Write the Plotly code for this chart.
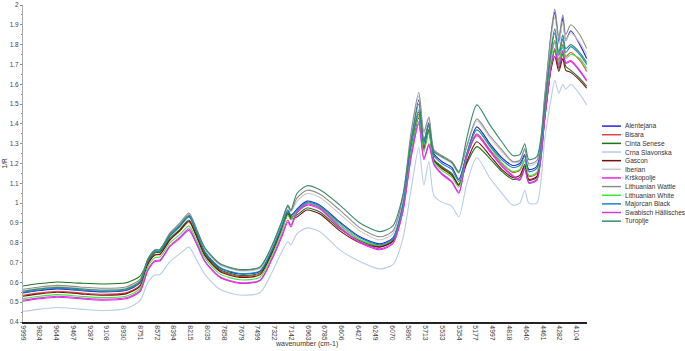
import plotly.graph_objects as go

# wavenumber sample points (cm-1)
wavenumber = [9999, 9818, 9637, 9392, 9147, 8902, 8753, 8668, 8593, 8540, 8433, 8327, 8231, 8157,
              8061, 7901, 7688, 7475, 7347, 7241, 7177, 7145, 7081, 6974, 6836, 6623, 6410, 6197,
              6058, 5952, 5867, 5782, 5728, 5675, 5622, 5537, 5430, 5356, 5270, 5164, 5025, 4898,
              4781, 4706, 4653, 4610, 4525, 4439, 4375, 4333, 4290, 4248, 4216, 4163, 4067, 3993]

alentejana = [0.547, 0.559, 0.567, 0.559, 0.552, 0.559, 0.597, 0.710, 0.755, 0.758, 0.835, 0.885, 0.935, 0.865,
              0.752, 0.672, 0.642, 0.655, 0.762, 0.885, 0.965, 0.935, 0.970, 1.010, 0.990, 0.905, 0.830, 0.795,
              0.825, 1.000, 1.310, 1.520, 1.310, 1.405, 1.250, 1.210, 1.180, 1.120, 1.250, 1.385, 1.300, 1.230,
              1.190, 1.200, 1.245, 1.170, 1.185, 1.530, 1.840, 1.965, 1.810, 1.935, 1.820, 1.870, 1.800, 1.730]
bisara = [0.535, 0.547, 0.555, 0.547, 0.540, 0.547, 0.585, 0.695, 0.740, 0.743, 0.815, 0.860, 0.905, 0.840,
          0.740, 0.660, 0.630, 0.643, 0.750, 0.870, 0.950, 0.925, 0.960, 1.000, 0.980, 0.890, 0.815, 0.785,
          0.815, 0.980, 1.270, 1.450, 1.280, 1.370, 1.220, 1.180, 1.145, 1.090, 1.240, 1.350, 1.270, 1.200,
          1.155, 1.165, 1.215, 1.135, 1.150, 1.470, 1.740, 1.820, 1.720, 1.800, 1.740, 1.760, 1.720, 1.665]
cinta_senese = [0.582, 0.594, 0.602, 0.596, 0.592, 0.598, 0.632, 0.705, 0.750, 0.752, 0.822, 0.868, 0.915, 0.850,
                0.745, 0.665, 0.635, 0.648, 0.755, 0.875, 0.955, 0.930, 0.940, 0.975, 0.955, 0.870, 0.810, 0.780,
                0.810, 0.975, 1.270, 1.460, 1.280, 1.370, 1.220, 1.185, 1.150, 1.095, 1.200, 1.285, 1.225, 1.160,
                1.120, 1.130, 1.185, 1.115, 1.130, 1.440, 1.680, 1.770, 1.680, 1.755, 1.690, 1.670, 1.630, 1.590]
crna_slavonska = [0.453, 0.465, 0.473, 0.465, 0.458, 0.468, 0.508, 0.600, 0.637, 0.640, 0.705, 0.745, 0.778, 0.720,
                  0.640, 0.565, 0.536, 0.548, 0.650, 0.755, 0.806, 0.790, 0.845, 0.875, 0.856, 0.764, 0.705, 0.668,
                  0.690, 0.820, 1.060, 1.280, 1.090, 1.210, 1.040, 1.005, 0.985, 0.930, 1.100, 1.230, 1.127, 1.050,
                  0.990, 1.000, 1.065, 1.000, 1.000, 1.330, 1.520, 1.620, 1.555, 1.600, 1.575, 1.600, 1.550, 1.495]
gascon = [0.530, 0.542, 0.550, 0.542, 0.535, 0.542, 0.580, 0.693, 0.738, 0.741, 0.815, 0.862, 0.910, 0.840,
          0.735, 0.655, 0.625, 0.638, 0.745, 0.865, 0.945, 0.920, 0.930, 0.965, 0.945, 0.860, 0.800, 0.778,
          0.808, 0.970, 1.260, 1.430, 1.270, 1.360, 1.215, 1.175, 1.140, 1.090, 1.210, 1.310, 1.240, 1.170,
          1.130, 1.140, 1.195, 1.120, 1.135, 1.430, 1.670, 1.740, 1.665, 1.730, 1.670, 1.660, 1.620, 1.580]
iberian = [0.558, 0.570, 0.578, 0.570, 0.563, 0.570, 0.608, 0.715, 0.760, 0.763, 0.845, 0.895, 0.945, 0.875,
           0.768, 0.688, 0.658, 0.670, 0.778, 0.900, 0.980, 0.955, 1.008, 1.048, 1.028, 0.945, 0.860, 0.815,
           0.845, 1.015, 1.330, 1.540, 1.350, 1.425, 1.265, 1.230, 1.200, 1.150, 1.280, 1.415, 1.330, 1.260,
           1.205, 1.210, 1.265, 1.190, 1.205, 1.540, 1.820, 1.940, 1.800, 1.915, 1.820, 1.860, 1.810, 1.750]
krskopolje = [0.505, 0.517, 0.525, 0.517, 0.510, 0.517, 0.553, 0.660, 0.705, 0.708, 0.780, 0.822, 0.862, 0.800,
              0.705, 0.625, 0.595, 0.608, 0.715, 0.830, 0.905, 0.880, 0.950, 0.990, 0.970, 0.875, 0.800, 0.765,
              0.795, 0.955, 1.220, 1.400, 1.220, 1.290, 1.195, 1.145, 1.105, 1.050, 1.235, 1.345, 1.265, 1.190,
              1.140, 1.120, 1.175, 1.105, 1.120, 1.440, 1.690, 1.780, 1.700, 1.770, 1.710, 1.720, 1.670, 1.620]
lith_wattle = [0.565, 0.577, 0.585, 0.577, 0.570, 0.577, 0.615, 0.720, 0.765, 0.768, 0.850, 0.900, 0.950, 0.880,
               0.772, 0.692, 0.662, 0.675, 0.782, 0.905, 0.985, 0.960, 1.025, 1.065, 1.045, 0.965, 0.875, 0.830,
               0.860, 1.030, 1.350, 1.558, 1.360, 1.435, 1.270, 1.240, 1.210, 1.160, 1.290, 1.425, 1.340, 1.270,
               1.210, 1.215, 1.275, 1.200, 1.215, 1.550, 1.850, 1.980, 1.840, 1.950, 1.850, 1.900, 1.850, 1.780]
lith_white = [0.518, 0.530, 0.538, 0.530, 0.523, 0.530, 0.568, 0.680, 0.725, 0.728, 0.800, 0.842, 0.885, 0.820,
              0.723, 0.643, 0.613, 0.626, 0.735, 0.860, 0.940, 0.915, 0.960, 1.000, 0.980, 0.890, 0.815, 0.788,
              0.818, 0.975, 1.260, 1.440, 1.260, 1.360, 1.210, 1.165, 1.130, 1.080, 1.245, 1.370, 1.285, 1.205,
              1.160, 1.170, 1.220, 1.140, 1.155, 1.460, 1.720, 1.810, 1.710, 1.790, 1.730, 1.750, 1.730, 1.680]
majorcan_black = [0.550, 0.562, 0.570, 0.562, 0.555, 0.562, 0.600, 0.710, 0.755, 0.758, 0.833, 0.882, 0.930, 0.860,
                  0.755, 0.675, 0.645, 0.658, 0.765, 0.885, 0.965, 0.940, 0.965, 1.005, 0.985, 0.900, 0.825, 0.790,
                  0.820, 0.990, 1.290, 1.470, 1.300, 1.390, 1.240, 1.200, 1.170, 1.110, 1.250, 1.370, 1.290, 1.220,
                  1.180, 1.190, 1.235, 1.160, 1.175, 1.490, 1.760, 1.860, 1.745, 1.830, 1.760, 1.790, 1.750, 1.700]
swabisch = [0.510, 0.522, 0.530, 0.522, 0.515, 0.522, 0.558, 0.665, 0.710, 0.713, 0.785, 0.828, 0.870, 0.805,
            0.708, 0.628, 0.598, 0.611, 0.720, 0.840, 0.915, 0.890, 0.955, 0.995, 0.975, 0.880, 0.805, 0.770,
            0.800, 0.960, 1.230, 1.410, 1.225, 1.300, 1.200, 1.150, 1.110, 1.055, 1.235, 1.340, 1.260, 1.185,
            1.135, 1.115, 1.170, 1.100, 1.115, 1.430, 1.680, 1.775, 1.695, 1.765, 1.705, 1.715, 1.665, 1.615]
turoplje = [0.555, 0.567, 0.575, 0.567, 0.560, 0.567, 0.605, 0.717, 0.762, 0.765, 0.842, 0.890, 0.940, 0.870,
            0.775, 0.695, 0.665, 0.678, 0.785, 0.910, 0.990, 0.965, 1.048, 1.088, 1.067, 0.990, 0.900, 0.856,
            0.885, 1.040, 1.310, 1.500, 1.320, 1.400, 1.260, 1.235, 1.205, 1.155, 1.330, 1.496, 1.395, 1.310,
            1.240, 1.245, 1.300, 1.220, 1.235, 1.500, 1.770, 1.880, 1.760, 1.850, 1.780, 1.800, 1.760, 1.710]

names = ["Alentejana", "Bisara", "Cinta Senese", "Crna Slavonska", "Gascon", "Iberian", "Krškopolje",
         "Lithuanian Wattle", "Lithuanian White", "Majorcan Black", "Swabisch Hällisches", "Turoplje"]
series = [alentejana, bisara, cinta_senese, crna_slavonska, gascon, iberian, krskopolje,
          lith_wattle, lith_white, majorcan_black, swabisch, turoplje]
colors = ["#2323d8", "#e04646", "#187818", "#b4cdea", "#7a0c0c", "#c8c8c8", "#f020f0",
          "#8c8c8c", "#3cea3c", "#1a86c8", "#d03cd8", "#3a8c68"]

x_ticks = [9999, 9824, 9644, 9467, 9287, 9108, 8930, 8751, 8572, 8394, 8215, 8035, 7858, 7679, 7499,
           7322, 7142, 6963, 6785, 6606, 6427, 6249, 6070, 5890, 5713, 5533, 5354, 5177, 4997, 4818,
           4640, 4461, 4282, 4104]

FONT = "Liberation Sans, Arial, sans-serif"

fig = go.Figure()
for name, ys, col in zip(names, series, colors):
    fig.add_trace(go.Scatter(x=wavenumber, y=ys, mode="lines", name=name,
                             line=dict(color=col, width=1.1, shape="spline", smoothing=0.7)))

# hand-built compact legend (plotly's own legend rows are too tall here)
lx0, lx1, ly0, ldy = 1.0266, 1.0603, 0.618, 0.02726
for i, (name, col) in enumerate(zip(names, colors)):
    y = ly0 - i * ldy
    fig.add_shape(type="line", xref="paper", yref="paper", x0=lx0, x1=lx1, y0=y, y1=y,
                  line=dict(color=col, width=1.5))
    fig.add_annotation(xref="paper", yref="paper", x=lx1 + 0.003, y=y, text=name, showarrow=False,
                       xanchor="left", yanchor="middle", font=dict(size=6.6, color="#333"))

fig.add_annotation(xref="paper", yref="paper", x=0.5035, y=-0.069, text="wavenumber (cm-1)",
                   showarrow=False, yanchor="middle", font=dict(size=7, color="#333"))
fig.add_annotation(xref="paper", yref="paper", x=-0.032, y=0.5, text="1/R", textangle=-90,
                   showarrow=False, xanchor="center", font=dict(size=6.5, color="#333"))

fig.update_layout(
    width=685, height=351,
    margin=dict(l=23, r=98, t=5, b=29),
    paper_bgcolor="white", plot_bgcolor="white",
    showlegend=False,
    font=dict(family=FONT, size=7, color="#444"),
    xaxis=dict(range=[9999, 3990], tickvals=x_ticks, ticktext=[str(t) for t in x_ticks],
               tickangle=90, showgrid=False, zeroline=False, showline=True, automargin=False,
               linecolor="#222", linewidth=2, ticks="", tickfont=dict(size=6.8)),
    yaxis=dict(range=[0.4, 2.0], dtick=0.1, showgrid=False, zeroline=False, showline=True,
               automargin=False, linecolor="#aaa", linewidth=1, ticks="outside", ticklen=2,
               tickcolor="#888", minor=dict(dtick=0.05, ticks="outside", ticklen=1.5, tickcolor="#888"),
               tickfont=dict(size=6.5)),
)

# the page body has a default 8px margin; drop it so the figure fills the window
fig.write_html("out.html", config={"displayModeBar": False},
               post_script="document.body.style.margin='0';")
